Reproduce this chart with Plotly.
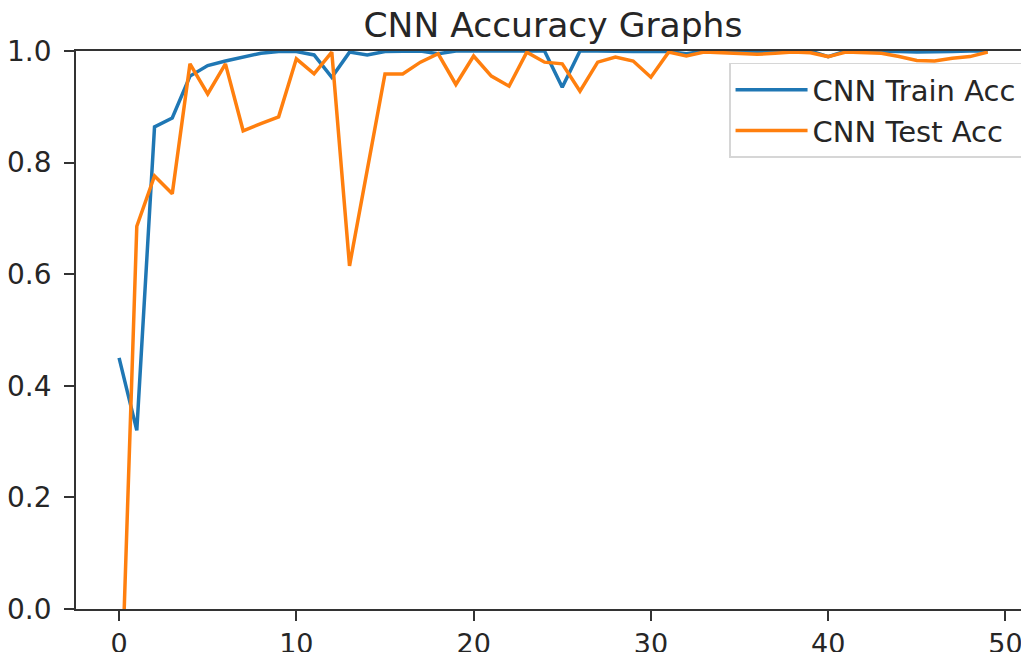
import plotly.graph_objects as go

epochs = list(range(50))
train_acc = [0.45, 0.32, 0.864, 0.88, 0.955, 0.974, 0.982, 0.989, 0.996, 0.999,
             0.999, 0.993, 0.953, 0.998, 0.993, 0.999, 1.0, 1.0, 0.995, 1.0,
             1.0, 1.0, 1.0, 1.0, 1.0, 0.935, 1.0, 1.0, 0.999, 0.999,
             0.999, 0.999, 0.995, 1.0, 1.0, 0.999, 0.999, 1.0, 1.0, 1.0,
             0.99, 1.0, 1.0, 1.0, 0.999, 0.998, 0.998, 0.999, 1.0, 1.0]
test_acc = [-0.28, 0.686, 0.776, 0.744, 0.977, 0.923, 0.977, 0.857, 0.87, 0.882,
            0.986, 0.959, 0.998, 0.615, 0.787, 0.959, 0.959, 0.98, 0.995, 0.94,
            0.991, 0.955, 0.937, 0.998, 0.98, 0.977, 0.928, 0.98, 0.989, 0.982,
            0.953, 0.998, 0.991, 0.998, 0.997, 0.995, 0.994, 0.996, 0.998, 0.997,
            0.99, 0.998, 0.997, 0.996, 0.99, 0.983, 0.982, 0.987, 0.99, 0.998]
x_ticks = [0, 10, 20, 30, 40, 50]
y_ticks = [0.0, 0.2, 0.4, 0.6, 0.8, 1.0]
y_tick_text = ["0.0", "0.2", "0.4", "0.6", "0.8", "1.0"]

fig = go.Figure()
fig.add_trace(go.Scatter(x=epochs, y=train_acc, mode="lines", name="CNN Train Acc",
                         line=dict(color="#1f77b4", width=3.5)))
fig.add_trace(go.Scatter(x=epochs, y=test_acc, mode="lines", name="CNN Test Acc",
                         line=dict(color="#ff7f0e", width=3.5)))

font_family = "DejaVu Sans"
fig.update_layout(
    width=1029, height=652,
    margin=dict(l=68, r=8, t=43, b=51, autoexpand=False),
    paper_bgcolor="white", plot_bgcolor="white",
    title=dict(text="CNN Accuracy Graphs", x=545 / 1029, xanchor="center",
               y=1 - 17 / 652, yanchor="middle",
               font=dict(family=font_family, size=34.5, color="#262626")),
    font=dict(family=font_family, size=28, color="#262626"),
    showlegend=True,
    legend=dict(x=0.9927, xanchor="right", y=0.9785, yanchor="top",
                bgcolor="rgba(255,255,255,0.8)", bordercolor="#d6d6d6", borderwidth=1.5,
                font=dict(family=font_family, size=29, color="#262626"),
                itemwidth=72, tracegroupgap=4),
    xaxis=dict(range=[-2.43, 51.33], tickvals=x_ticks, showgrid=False, zeroline=False,
               showline=True, linecolor="#333", linewidth=1.8, mirror=True,
               ticks="outside", ticklen=10, tickwidth=1.8, tickcolor="#333",
               automargin=False, ticklabelstandoff=0,
               tickfont=dict(family=font_family, size=27, color="#262626")),
    yaxis=dict(range=[0, 1], tickvals=y_ticks, ticktext=y_tick_text, showgrid=False,
               zeroline=False, showline=True, linecolor="#333", linewidth=1.8, mirror=False,
               ticks="outside", ticklen=10, tickwidth=1.8, tickcolor="#333",
               automargin=False, ticklabelstandoff=7,
               tickfont=dict(family=font_family, size=28, color="#262626")),
)

fig.write_html("out.html")
